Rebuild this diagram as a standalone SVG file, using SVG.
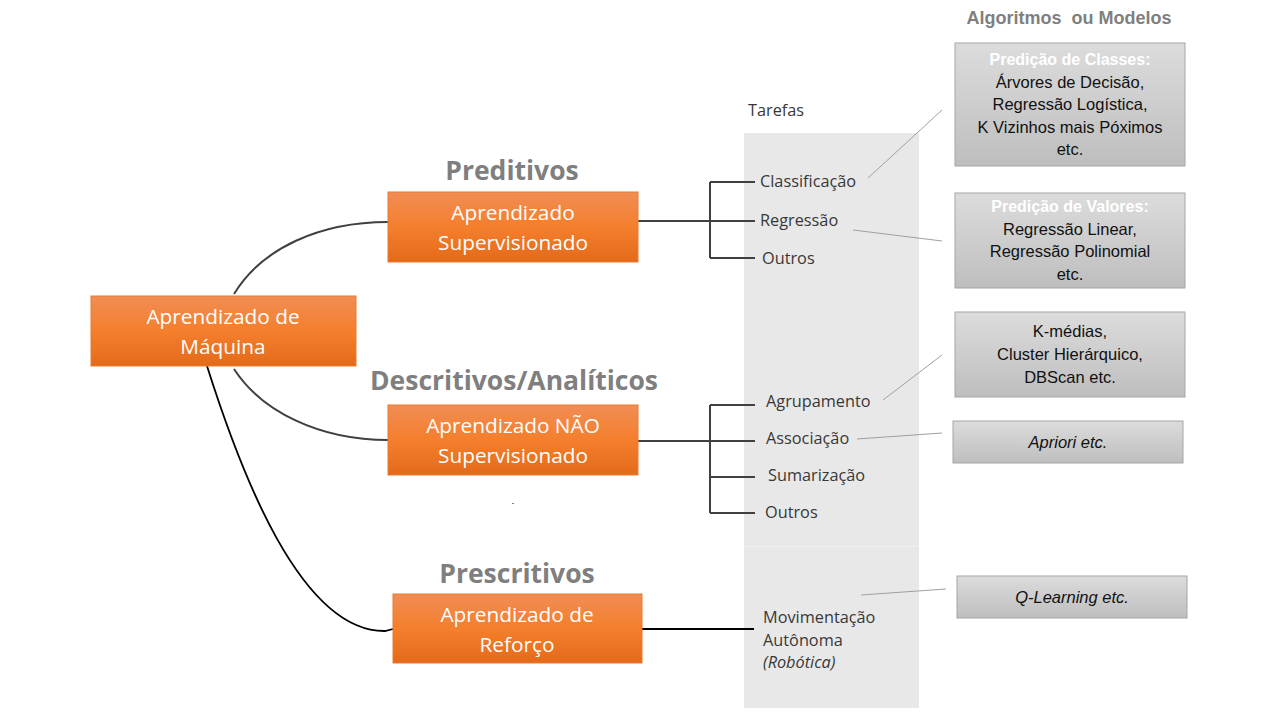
<svg xmlns="http://www.w3.org/2000/svg" width="1280" height="720" viewBox="0 0 1280 720">
<defs>
<linearGradient id="og" x1="0" y1="0" x2="0" y2="1">
<stop offset="0" stop-color="#F18D55"/>
<stop offset="0.5" stop-color="#F47F2C"/>
<stop offset="1" stop-color="#E46A19"/>
</linearGradient>
<linearGradient id="gg" x1="0" y1="0" x2="0" y2="1">
<stop offset="0" stop-color="#DCDCDC"/>
<stop offset="1" stop-color="#BEBEBE"/>
</linearGradient>
</defs>
<style>
.ob{fill:url(#og);stroke:#EA7A30;stroke-width:1}
.ot{font-family:"Open Sans","Liberation Sans",sans-serif;font-size:20.8px;fill:#FFFFFF;text-anchor:middle}
.hd{font-family:"Open Sans","Liberation Sans",sans-serif;font-size:26.5px;font-weight:bold;fill:#7F7F7F;text-anchor:middle}
.gb{fill:url(#gg);stroke:#A6A6A6;stroke-width:1}
.gt{font-family:"Liberation Sans",Arial,sans-serif;font-size:16.5px;fill:#111111;text-anchor:middle}
.gw{font-family:"Liberation Sans",Arial,sans-serif;font-size:16px;font-weight:bold;fill:#FFFFFF;text-anchor:middle}
.tk{font-family:"Open Sans","Liberation Sans",sans-serif;font-size:16.3px;fill:#383838}
.cn{fill:none;stroke:#404040;stroke-width:2}
.thin{fill:none;stroke:#A0A0A0;stroke-width:1}
</style>
<rect width="1280" height="720" fill="#FFFFFF"/>
<g id="tasks-panel">
<rect x="744" y="133" width="175" height="575" fill="#E8E8E8"/>
<line x1="744" y1="546.5" x2="919" y2="546.5" stroke="#F1F1F1" stroke-width="1"/>
</g>
<text x="1069" y="24" font-family="Liberation Sans,Arial,sans-serif" font-size="18" font-weight="bold" fill="#7F7F7F" text-anchor="middle" xml:space="preserve">Algoritmos  ou Modelos</text>
<text x="748" y="116" class="tk" font-size="15.5">Tarefas</text>
<g id="connectors">
<path class="cn" d="M234,294 C262,248 320,222 388,222"/>
<path class="cn" d="M234,369 C262,412 320,440 388,440"/>
<path d="M207,366 C240,470 300,632 385,631 L393,629" fill="none" stroke="#000" stroke-width="1.8"/>
<path class="cn" d="M638,221 H710 M710,182 V258 M710,182 H755 M710,221 H755 M710,258 H755"/>
<path class="cn" d="M638,441 H710 M710,405 V513 M710,405 H755 M710,441 H755 M710,477 H755 M710,513 H755"/>
<path d="M642,629 H754" fill="none" stroke="#000" stroke-width="2"/>
<path class="thin" d="M868,178 L942,110 M853,230 L942,241 M883,400 L942,355 M857,439 L942,433 M861,595 L946,589"/>
</g>
<g id="ml">
<rect class="ob" x="91" y="296" width="265" height="70"/>
<text class="ot" x="223" y="324">Aprendizado de</text>
<text class="ot" x="223" y="354">Máquina</text>
</g>
<g id="preditivos">
<text class="hd" x="512" y="180">Preditivos</text>
<rect class="ob" x="388" y="192" width="250" height="70"/>
<text class="ot" x="513" y="220">Aprendizado</text>
<text class="ot" x="513" y="250">Supervisionado</text>
</g>
<g id="descritivos">
<text class="hd" x="514" y="390">Descritivos/Analíticos</text>
<rect class="ob" x="388" y="405" width="250" height="70"/>
<text class="ot" x="513" y="433">Aprendizado NÃO</text>
<text class="ot" x="513" y="463">Supervisionado</text>
<rect x="512" y="503" width="2" height="1" fill="#808080"/>
</g>
<g id="prescritivos">
<text class="hd" x="517" y="583">Prescritivos</text>
<rect class="ob" x="393" y="594" width="249" height="69"/>
<text class="ot" x="517" y="622">Aprendizado de</text>
<text class="ot" x="517" y="652">Reforço</text>
</g>
<g id="task-labels">
<text class="tk" x="760" y="187">Classificação</text>
<text class="tk" x="760" y="226">Regressão</text>
<text class="tk" x="762" y="264">Outros</text>
<text class="tk" x="766" y="407">Agrupamento</text>
<text class="tk" x="766" y="444">Associação</text>
<text class="tk" x="768" y="481">Sumarização</text>
<text class="tk" x="765" y="518">Outros</text>
<text class="tk" x="763" y="623" fill="#595959">Movimentação</text>
<text class="tk" x="763" y="646" fill="#595959">Autônoma</text>
<text class="tk" x="763" y="668" fill="#7F7F7F" font-style="italic">(Robótica)</text>
</g>
<g id="alg-classes">
<rect class="gb" x="955" y="43" width="230" height="123"/>
<text class="gw" x="1070" y="65">Predição de Classes:</text>
<text class="gt" x="1070" y="88">Árvores de Decisão,</text>
<text class="gt" x="1070" y="110">Regressão Logística,</text>
<text class="gt" x="1070" y="133">K Vizinhos mais Póximos</text>
<text class="gt" x="1070" y="155">etc.</text>
</g>
<g id="alg-valores">
<rect class="gb" x="955" y="193" width="230" height="95"/>
<text class="gw" x="1070" y="212">Predição de Valores:</text>
<text class="gt" x="1070" y="235">Regressão Linear,</text>
<text class="gt" x="1070" y="257">Regressão Polinomial</text>
<text class="gt" x="1070" y="280">etc.</text>
</g>
<g id="alg-cluster">
<rect class="gb" x="955" y="312" width="230" height="85"/>
<text class="gt" x="1070" y="337">K-médias,</text>
<text class="gt" x="1070" y="360">Cluster Hierárquico,</text>
<text class="gt" x="1070" y="383">DBScan etc.</text>
</g>
<g id="alg-apriori">
<rect class="gb" x="953" y="421" width="230" height="42"/>
<text class="gt" x="1068" y="448" font-style="italic">Apriori etc.</text>
</g>
<g id="alg-qlearning">
<rect class="gb" x="957" y="576" width="230" height="42"/>
<text class="gt" x="1072" y="603" font-style="italic">Q-Learning etc.</text>
</g>
</svg>
